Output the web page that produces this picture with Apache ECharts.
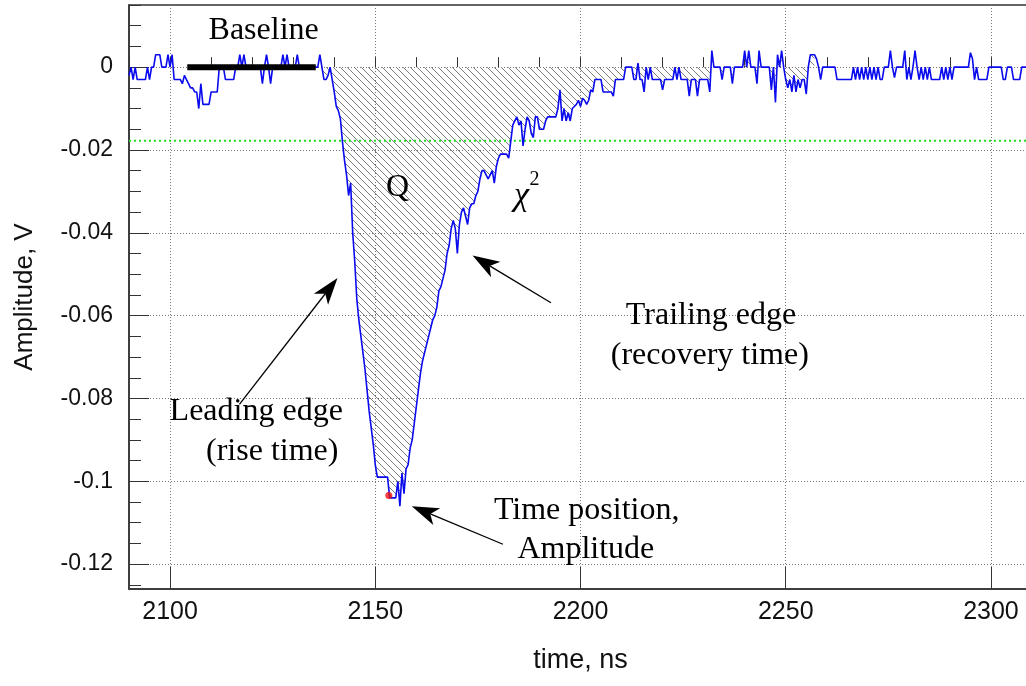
<!DOCTYPE html>
<html>
<head>
<meta charset="utf-8">
<script src="https://cdn.jsdelivr.net/npm/echarts@6/dist/echarts.min.js"></script>
<style>
  html, body { margin: 0; padding: 0; background: #fff; }
  #chart { width: 1026px; height: 686px; }
</style>
</head>
<body>
<div id="chart"></div>
<script>
// Digitized pulse: first sample time (ns), sampling step (ns), amplitudes in mV
const sampleStart = 2090;
const sampleStep = 0.5;
const amplitudeMv = [
  /* 2090 */ -2, 0, -3, 0, -3, -3, -3, -3, -3, 0, -3, 0, 0, 3, 3, 3, 0, 0, 0, 3,
  /* 2100 */ 0, 3, -3, -3, -3, -3, -4, -2, -3, -4, -5, -5, -6, -6, -10, -4, -9, -9, -9, -9,
  /* 2110 */ -6, -6, -6, -6, 0, 0, 0, -3, -3, -3, -3, -3, 0, 0, 3, 0, 3, 0, 0, 0,
  /* 2120 */ 0, 0, 0, 0, 0, -4, 0, 3, 0, -4, 0, 0, 0, 0, 0, 3, 0, 3, 0, 0,
  /* 2130 */ 0, 0, 3, 0, 0, 0, 0, 0, 0, 0, 0, 0, 0, 3, 0, -3, -3, -2, 0, -3,
  /* 2140 */ -6, -9.5, -10.5, -12.5, -18, -22.5, -26, -31, -28, -40, -47, -56, -61, -65, -69, -73, -78, -83, -87, -91,
  /* 2150 */ -96, -99, -99, -99, -99, -99, -99, -104, -104, -104, -104, -100, -106, -98, -103, -97, -96, -92, -90, -86,
  /* 2160 */ -82, -78, -74, -71, -69, -67, -65, -63, -61, -60, -58, -54, -53, -51, -49, -45, -43, -39, -37, -39,
  /* 2170 */ -45, -38, -35, -34, -36, -38, -34, -33, -33, -31, -30, -27, -25, -25, -26, -27, -26, -25, -28, -24,
  /* 2180 */ -22, -21, -21, -21, -21, -22, -18, -14, -13, -12, -14, -13, -19, -15, -12, -13, -16, -17, -12, -12,
  /* 2190 */ -15, -15, -15, -13, -12, -12, -12, -12, -12, -10, -5.5, -13, -10, -13, -11, -13, -10, -9.5, -9, -8,
  /* 2200 */ -9.5, -7.5, -8, -9, -8, -5.5, -6, -3, -3, -3, -3, -6, -6, -6, -6, -6, -7, -3, -3, -3,
  /* 2210 */ -3, -3, 0, 0, 0, 0, -3, -3, 1, -3, -3, -6, 0, -3, 0, -3, -3, -3, -3, -3,
  /* 2220 */ -5.5, -3, -3, -3, -3, -3, 0, -3, 0, -3, -3, -3, -3, -7, -3, -3, -3, -7, -3, -3,
  /* 2230 */ -3, -3, -3, -6, 4, 0, 0, 0, 0, -3, 0, 0, 0, 0, -4, 0, 0, 0, 0, 0,
  /* 2240 */ 4, 0, 4, 0, 0, 0, -4, 4, 0, 0, 0, 0, 0, -5.5, 0, -8.5, 3, 0, 4, 0,
  /* 2250 */ -3, -5, -3, -6, -2, -6, -3, -5, -3, -3, -6.5, 0, 3, 3, 3, 2, 0, -3, 0, 0,
  /* 2260 */ 0, 0, 0, 0, 0, -3, -3, -3, -3, -3, -3, -3, -3, 0, -3, 0, -3, 0, -3, 0,
  /* 2270 */ -3, 0, -3, 0, -3, 0, -3, -3, 0, 0, 0, 4, 0, -2.5, 0, 0, 0, 0, 4, -3,
  /* 2280 */ 0, -3, 0, 4, 0, -3, 0, -3, 0, -3, 0, -3, -3, -3, -3, -3, 0, -3, 0, -3,
  /* 2290 */ 0, -3, 0, 0, 0, 0, 0, 0, 0, 0, 3.5, 2, -3, 0, -3, -3, -3, -3, -3, 0,
  /* 2300 */ 0, 0, 0, 0, 0, 0, -3, -3, 0, 0, 0, -3, -3, -3, -3, 0, 0, 0, 0, 0
];

// Axis ranges and ticks
const timeRange = [2090, 2310];
const ampRange = [-0.126, 0.015];
const timeTicks = [2100, 2150, 2200, 2250, 2300];
const timeMinorTicks = [2090, 2100, 2110, 2120, 2130, 2140, 2150, 2160, 2170, 2180, 2190, 2200,
  2210, 2220, 2230, 2240, 2250, 2260, 2270, 2280, 2290, 2300, 2310];
const ampTicks = [0, -0.02, -0.04, -0.06, -0.08, -0.1, -0.12];
const ampMinorTicks = [0.015, 0.01, 0.005, 0, -0.005, -0.01, -0.015, -0.02, -0.025, -0.03, -0.035,
  -0.04, -0.045, -0.05, -0.055, -0.06, -0.065, -0.07, -0.075, -0.08, -0.085, -0.09, -0.095,
  -0.1, -0.105, -0.11, -0.115, -0.12, -0.125];

// Analysis results
const thresholdV = -0.0178;
const baselineWindow = [2104.2, 2135.5];
const chargeWindow = [2137, 2257];
const peakPoint = [2153.3, -0.1034];

// Annotation anchors in data units (time ns, amplitude V)
const labels = [
  { text: 'Baseline', at: [2122.8, 0.0089] },
  { text: 'Q', at: [2155.4, -0.0292] },
  { text: 'Leading edge', at: [2121.0, -0.0831] },
  { text: '(rise time)', at: [2124.9, -0.0928] },
  { text: 'Trailing edge', at: [2231.8, -0.0600] },
  { text: '(recovery time)', at: [2231.5, -0.0696] },
  { text: 'Time position,', at: [2201.5, -0.1070] },
  { text: 'Amplitude', at: [2201.3, -0.1164] }
];
const chiLabel = { at: [2185.6, -0.0312], sup: [2187.6, -0.0272] };
const arrows = [
  { from: [2116.9, -0.0814], to: [2140.8, -0.0509] },
  { from: [2192.8, -0.0569], to: [2173.7, -0.0455] },
  { from: [2181.1, -0.1152], to: [2158.9, -0.1060] }
];

const waveform = amplitudeMv.map((mv, i) => [sampleStart + i * sampleStep, mv / 1000]);
const chargeArea = waveform.filter(p => p[0] >= chargeWindow[0] && p[0] <= chargeWindow[1]);

function hatchPattern() {
  const c = document.createElement('canvas');
  c.width = 7; c.height = 7;
  const g = c.getContext('2d');
  g.strokeStyle = '#7c7c7c';
  g.lineWidth = 1;
  g.beginPath();
  for (const o of [-7, 0, 7]) { g.moveTo(o - 1, -1); g.lineTo(o + 8, 8); }
  g.stroke();
  return c;
}

const serif = "'Liberation Serif', 'Times New Roman', serif";
const sans = "'Liberation Sans', Arial, sans-serif";
const gridDots = { show: true, lineStyle: { color: '#777', width: 1, type: [1, 2] } };

const chart = echarts.init(document.getElementById('chart'), null, { renderer: 'canvas' });

chart.setOption({
  animation: false,
  backgroundColor: '#fff',
  grid: {
    left: 129, right: -6, top: 5, bottom: 97,
    outerBoundsMode: 'none', containLabel: false,
    show: true, borderColor: '#333', borderWidth: 1.5, backgroundColor: 'transparent'
  },
  xAxis: [
    {
      type: 'value', min: timeRange[0], max: timeRange[1], position: 'bottom',
      name: 'time, ns', nameLocation: 'middle', nameGap: 58,
      nameTextStyle: { fontFamily: sans, fontSize: 27, color: '#111' },
      axisLine: { show: true, onZero: false, lineStyle: { color: '#333', width: 1.5 } },
      axisTick: { show: true, inside: true, length: 22, customValues: timeTicks, lineStyle: { color: '#333' } },
      axisLabel: {
        show: true, customValues: timeTicks, margin: 11, fontFamily: sans, fontSize: 25, color: '#111',
        formatter: v => String(v)
      },
      splitLine: gridDots
    },
    {
      type: 'value', min: timeRange[0], max: timeRange[1], position: 'bottom', offset: 0,
      axisLine: { show: false },
      axisTick: { show: true, inside: true, length: 10, customValues: timeMinorTicks, lineStyle: { color: '#333' } },
      axisLabel: { show: false },
      splitLine: { show: false }
    }
  ],
  yAxis: [
    {
      type: 'value', min: ampRange[0], max: ampRange[1], position: 'left',
      name: 'Amplitude, V', nameLocation: 'middle', nameGap: 91, nameRotate: 90,
      nameTextStyle: { fontFamily: sans, fontSize: 26, color: '#111' },
      axisLine: { show: true, onZero: false, lineStyle: { color: '#333', width: 1.5 } },
      axisTick: { show: true, inside: true, length: 20, customValues: ampTicks, lineStyle: { color: '#333' } },
      axisLabel: {
        show: true, customValues: ampTicks, margin: 16, fontFamily: sans, fontSize: 23, color: '#111',
        formatter: v => String(Math.round(v * 1000) / 1000)
      },
      splitLine: gridDots
    },
    {
      type: 'value', min: ampRange[0], max: ampRange[1], position: 'left', offset: 0,
      axisLine: { show: false },
      axisTick: { show: true, inside: true, length: 12, customValues: ampMinorTicks, lineStyle: { color: '#333' } },
      axisLabel: { show: false },
      splitLine: { show: false }
    }
  ],
  series: [
    {
      name: 'charge', type: 'line', data: chargeArea, showSymbol: false, symbol: 'none',
      lineStyle: { width: 0, opacity: 0 },
      areaStyle: { color: { image: hatchPattern(), repeat: 'repeat' }, opacity: 1 },
      silent: true, z: 1
    },
    {
      name: 'threshold', type: 'line', data: timeRange.map(t => [t, thresholdV]),
      showSymbol: false, symbol: 'none', silent: true,
      lineStyle: { color: '#22dd22', width: 2, type: [2, 3] }, z: 2
    },
    {
      name: 'signal', type: 'line', data: waveform, showSymbol: false, symbol: 'none',
      lineStyle: { color: '#0a0aee', width: 1.6 }, z: 3
    },
    {
      name: 'baseline', type: 'line', data: baselineWindow.map(t => [t, 0]),
      showSymbol: false, symbol: 'none', lineStyle: { color: '#000', width: 6, cap: 'butt' }, z: 4
    },
    {
      name: 'peak', type: 'scatter', data: [peakPoint], symbolSize: 7,
      itemStyle: { color: '#ee1111' }, z: 5
    }
  ]
});

function px(p) { return chart.convertToPixel({ xAxisIndex: 0, yAxisIndex: 0 }, p); }

const graphics = [];
labels.forEach(l => {
  const [x, y] = px(l.at);
  graphics.push({
    type: 'text', x, y, z: 10,
    style: { text: l.text, font: '32px ' + serif, fill: '#000', textAlign: 'center', textVerticalAlign: 'middle' }
  });
});
{
  const [x, y] = px(chiLabel.at);
  graphics.push({ type: 'text', x, y, z: 10,
    style: { text: 'χ', font: 'italic 34px ' + serif, fill: '#000', textAlign: 'center', textVerticalAlign: 'middle' } });
  const [sx, sy] = px(chiLabel.sup);
  graphics.push({ type: 'text', x: sx, y: sy, z: 10,
    style: { text: '2', font: '20px ' + serif, fill: '#000', textAlign: 'left', textVerticalAlign: 'middle' } });
}
arrows.forEach(a => {
  const [x0, y0] = px(a.from);
  const [x1, y1] = px(a.to);
  const dx = x1 - x0, dy = y1 - y0, len = Math.hypot(dx, dy);
  const ux = dx / len, uy = dy / len, nx = -uy, ny = ux;
  const L = 27, W = 9, N = 7;
  const bx = x1 - ux * L, by = y1 - uy * L;
  const mx = x1 - ux * (L - N), my = y1 - uy * (L - N);
  graphics.push({ type: 'line', z: 10, shape: { x1: x0, y1: y0, x2: mx, y2: my }, style: { stroke: '#000', lineWidth: 1.3 } });
  graphics.push({ type: 'polygon', z: 10,
    shape: { points: [[x1, y1], [bx + nx * W, by + ny * W], [mx, my], [bx - nx * W, by - ny * W]] },
    style: { fill: '#000' } });
});
chart.setOption({ graphic: graphics });
</script>
</body>
</html>
